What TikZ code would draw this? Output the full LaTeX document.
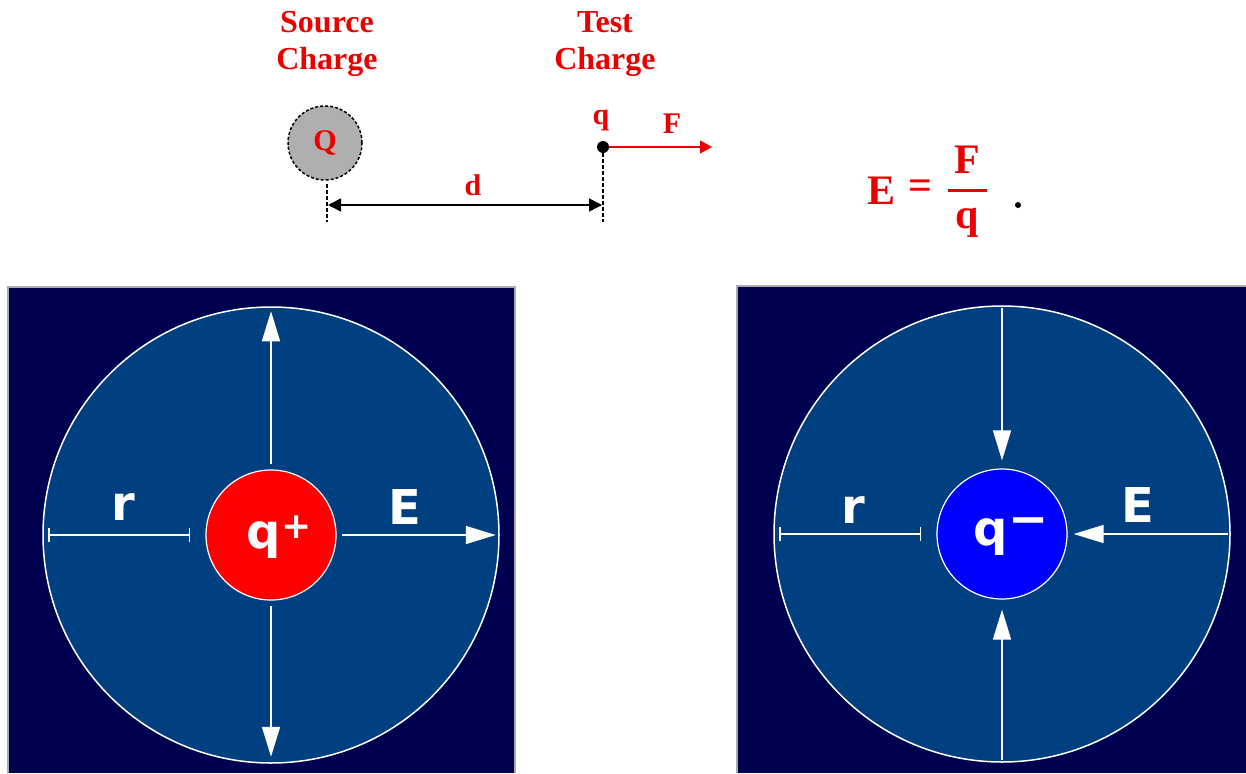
\documentclass[tikz,border=0pt]{standalone}
\usepackage{fontspec}
\setmainfont{Liberation Serif}
\newfontfamily\panelfont{DejaVu Sans}
\usetikzlibrary{arrows.meta}
\definecolor{navy}{RGB}{0,0,80}
\definecolor{field}{RGB}{0,64,128}
\definecolor{chargered}{RGB}{255,0,0}
\definecolor{chargeblue}{RGB}{0,0,255}
\definecolor{labelred}{RGB}{235,0,0}
\definecolor{srcgray}{RGB}{175,175,175}
\definecolor{frame}{RGB}{170,170,170}
\begin{document}
\begin{tikzpicture}[x=1pt,y=-1pt,
  redlabel/.style={text=labelred,font=\fontsize{32}{37}\selectfont\bfseries,align=center,inner sep=0pt},
  eqlabel/.style={text=labelred,font=\fontsize{42}{42}\selectfont\bfseries,inner sep=0pt},
  fieldcircle/.style={circle,draw=white,line width=1.5pt,fill=field,inner sep=0pt,minimum size=456pt},
  chargecircle/.style={circle,draw=white,line width=1.2pt,inner sep=0pt,minimum size=130pt},
  panellabel/.style={text=white,font=\panelfont\bfseries\fontsize{48}{48}\selectfont,inner sep=0pt},
  fieldarrow/.style={draw=white,line width=1.5pt,-{Triangle[length=30pt,width=18pt]}},
  rline/.style={draw=white,line width=1.5pt,{Bar[width=14pt,line width=1.5pt]}-{Bar[width=14pt,line width=1.5pt]}},
  dimline/.style={draw=black,line width=1.5pt,{Triangle[length=13pt,width=13pt]}-{Triangle[length=13pt,width=13pt]}},
  dashline/.style={draw=black,line width=1.8pt,dash pattern=on 4pt off 2pt},
  forcearrow/.style={draw=labelred,line width=1.5pt,-{Triangle[length=12pt,width=13pt]}}
]
\useasboundingbox (0,0) rectangle (1246,773);

% ---------- top part ----------
\node[redlabel] (srclbl) at (327,44) {Source\\Charge};
\node[redlabel] (testlbl) at (605,44) {Test\\Charge};

\node[circle,draw=black,dash pattern=on 3pt off 2pt,line width=1.5pt,fill=srcgray,minimum size=74pt,inner sep=0pt,text=labelred,font=\fontsize{30}{30}\selectfont\bfseries] (srcQ) at (325,143) {Q};

\node[circle,fill=black,minimum size=12pt,inner sep=0pt] (tq) at (603,147) {};
\node[redlabel,font=\fontsize{30}{30}\selectfont\bfseries] (qlbl) at (601,120) {q};
\coordinate (Fend) at (712,147);
\draw[forcearrow] (tq.east) -- (Fend);
\node[redlabel,font=\fontsize{30}{30}\selectfont\bfseries] (Flbl) at (672,124) {F};

\coordinate (dl1) at (327,184);
\coordinate (dl2) at (327,222);
\coordinate (dr2) at (603,222);
\draw[dashline] (dl1) -- (dl2);
\draw[dashline] (tq.south) -- (dr2);
\coordinate (da) at (328,205);
\coordinate (db) at (602,205);
\draw[dimline] (da) -- (db);
\node[redlabel,font=\fontsize{30}{30}\selectfont\bfseries] (dlbl) at (473,185) {d};

% formula
\node[eqlabel] (eqE) at (881,191) {E};
\node[eqlabel] (eqeq) at (920,190) {=};
\node[eqlabel] (eqF) at (967,160) {F};
\coordinate (bar1) at (948,190);
\coordinate (bar2) at (987,190);
\draw[labelred,line width=3pt] (bar1) -- (bar2);
\node[eqlabel] (eqq) at (967,223) {q};
\node[circle,fill=black,minimum size=6pt,inner sep=0pt] (eqdot) at (1018,205) {};

% ---------- left panel ----------
\fill[navy] (8,287) rectangle (515,773);
\draw[frame,line width=1.5pt] (8,773) -- (8,287) -- (515,287) -- (515,773);
\node[fieldcircle] (fieldL) at (271,535) {};
\node[chargecircle,fill=chargered] (qplus) at (271,535) {};
\node[panellabel] (qplbl) at (279,537) {q\raisebox{10pt}{\fontsize{36}{36}\selectfont+}};
\draw[fieldarrow,shorten <=5pt,shorten >=5pt] (qplus.north) -- (fieldL.north);
\draw[fieldarrow,shorten <=5pt,shorten >=7pt] (qplus.south) -- (fieldL.south);
\draw[fieldarrow,shorten <=5pt,shorten >=4pt] (qplus.east) -- (fieldL.east);
\draw[rline,shorten <=6pt,shorten >=15pt] (fieldL.west) -- (qplus.west);
\node[panellabel] (rL) at (123,507) {r};
\node[panellabel] (EL) at (405,507) {E};

% ---------- right panel ----------
\fill[navy] (737,286) rectangle (1246,773);
\draw[frame,line width=1.5pt] (737,773) -- (737,286) -- (1246,286);
\node[fieldcircle] (fieldR) at (1002,534) {};
\node[chargecircle,fill=chargeblue] (qminus) at (1002,534) {};
\node[panellabel] (qmlbl) at (1011,537) {q\raisebox{10pt}{−}};
\draw[fieldarrow,shorten <=3pt,shorten >=8pt] (fieldR.north) -- (qminus.north);
\draw[fieldarrow,shorten <=3pt,shorten >=10pt] (fieldR.south) -- (qminus.south);
\draw[fieldarrow,shorten <=3pt,shorten >=6pt] (fieldR.east) -- (qminus.east);
\draw[rline,shorten <=6pt,shorten >=15pt] (fieldR.west) -- (qminus.west);
\node[panellabel] (rR) at (853,510) {r};
\node[panellabel] (ER) at (1138,505) {E};
\end{tikzpicture}
\end{document}
